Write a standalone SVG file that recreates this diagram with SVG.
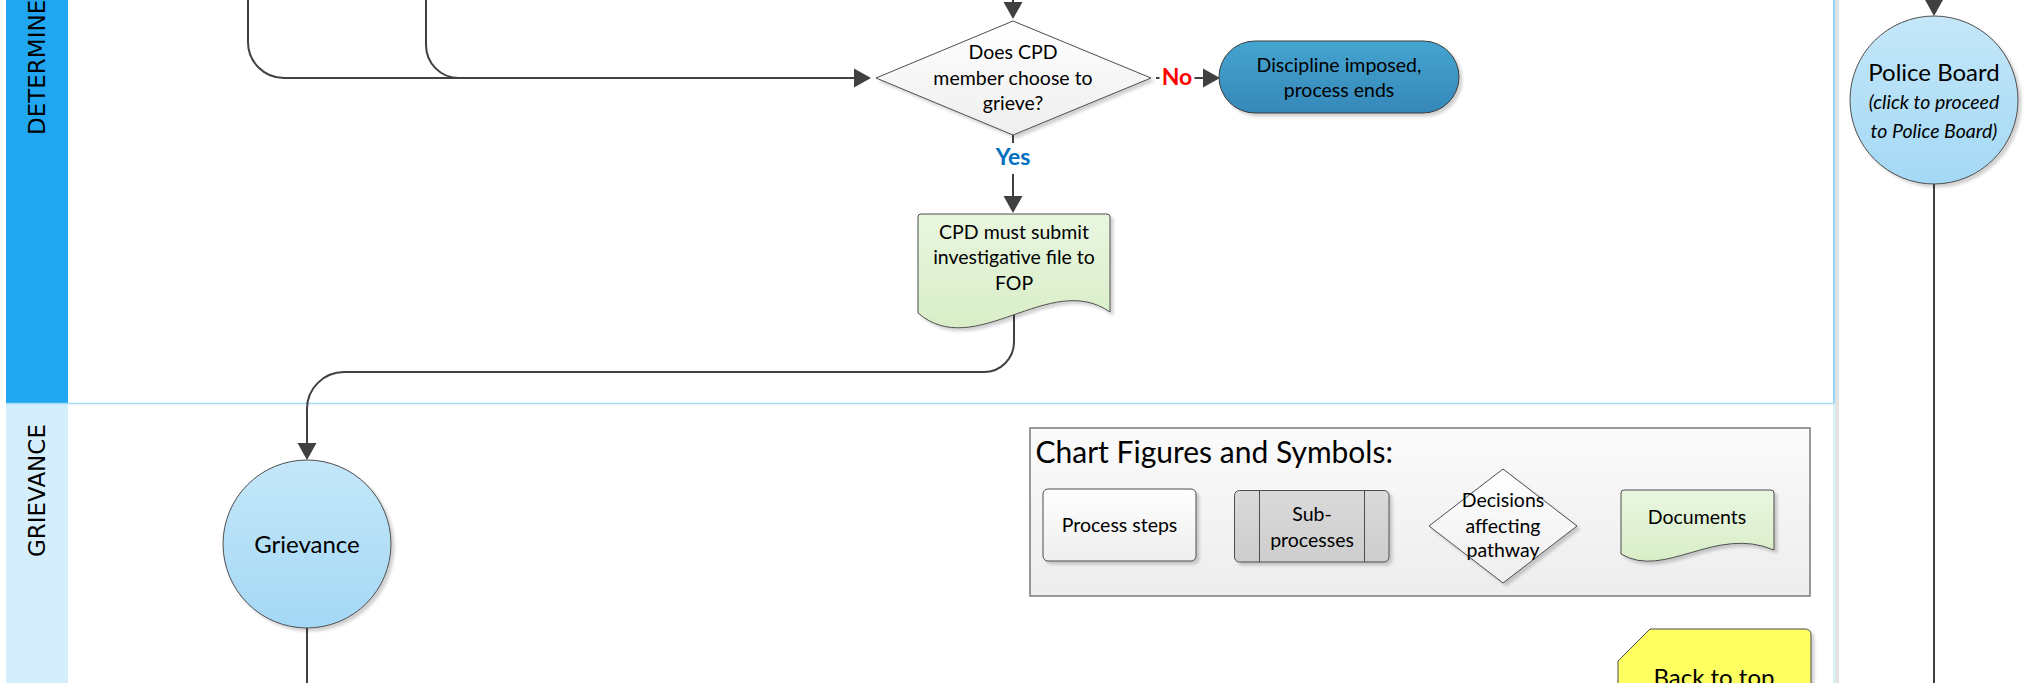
<svg xmlns="http://www.w3.org/2000/svg" width="2030" height="683" viewBox="0 0 2030 683">
<defs>
<style>
.t{font-family:Lato,"Open Sans","Liberation Sans",sans-serif;fill:#000;text-anchor:middle}
.lane{font-family:"DejaVu Sans",Verdana,sans-serif;font-size:23px;fill:#000}
.conn{fill:none;stroke:#404040;stroke-width:2}
.nd{stroke:#4d4d4d;stroke-width:1;stroke-linejoin:round}
</style>
<linearGradient id="gBlue" x1="0" y1="0" x2="0" y2="1"><stop offset="0" stop-color="#C4E7F9"/><stop offset="1" stop-color="#A4D8F5"/></linearGradient>
<linearGradient id="gTerm" x1="0" y1="0" x2="0" y2="1"><stop offset="0" stop-color="#45A4D0"/><stop offset="1" stop-color="#3588B9"/></linearGradient>
<linearGradient id="gWhite" x1="0" y1="0" x2="0" y2="1"><stop offset="0" stop-color="#FFFFFF"/><stop offset="1" stop-color="#EEEEEE"/></linearGradient>
<linearGradient id="gGreen" x1="0" y1="0" x2="0" y2="1"><stop offset="0" stop-color="#E9F6E0"/><stop offset="1" stop-color="#D8EEC7"/></linearGradient>
<linearGradient id="gGrey" x1="0" y1="0" x2="0" y2="1"><stop offset="0" stop-color="#DADADA"/><stop offset="1" stop-color="#CDCDCD"/></linearGradient>
<linearGradient id="gLegend" x1="0" y1="0" x2="0" y2="1"><stop offset="0" stop-color="#FBFBFB"/><stop offset="1" stop-color="#EDEDED"/></linearGradient>
<filter id="sh" x="-10%" y="-10%" width="130%" height="130%"><feDropShadow dx="3" dy="3" stdDeviation="1.5" flood-color="#000" flood-opacity="0.18"/></filter>
<marker id="ah" markerUnits="userSpaceOnUse" markerWidth="18" markerHeight="20" refX="0" refY="9.5" orient="auto" viewBox="0 0 18 19"><path d="M0,0 L17,9.5 L0,19 Z" fill="#404040"/></marker>
</defs>
<rect x="0" y="0" width="2030" height="683" fill="#FFFFFF"/>

<g id="lanes">
<rect x="6" y="-1" width="62" height="404.5" fill="#21A7F1"/>
<rect x="6" y="404" width="62" height="280" fill="#D4EEFC"/>
<line x1="6" y1="403.5" x2="1834" y2="403.5" stroke="#A6DCF6" stroke-width="1.5"/>
<line x1="1834" y1="0" x2="1834" y2="403.5" stroke="#6CC6F2" stroke-width="1.5"/>
<line x1="1834" y1="404" x2="1834" y2="683" stroke="#CDECFA" stroke-width="1.5"/>
<rect x="1835" y="0" width="4" height="683" fill="#E3E3E3"/>
<text class="lane" transform="translate(44.5,135) rotate(-90)">DETERMINE</text>
<text class="lane" transform="translate(44.5,557) rotate(-90)">GRIEVANCE</text>
</g>

<g id="connectors">
<path class="conn" d="M248,-5 V42 A36,36 0 0 0 284,78 H854" marker-end="url(#ah)"/>
<path class="conn" d="M426,-5 V45 A33,33 0 0 0 459,78 H470"/>
<path class="conn" d="M1013,-20 V2" marker-end="url(#ah)"/>
<path class="conn" d="M1156,78 H1203" marker-end="url(#ah)"/>
<path class="conn" d="M1013,135 V196" marker-end="url(#ah)"/>
<path class="conn" d="M1014,314 V342 A30,30 0 0 1 984,372 H344 A37,37 0 0 0 307,409 V443" marker-end="url(#ah)"/>
<path class="conn" d="M307,628 V690"/>
<path class="conn" d="M1934,-20 V-1" marker-end="url(#ah)"/>
<path class="conn" d="M1934,184 V690"/>
<rect x="1159.5" y="64" width="35" height="28" fill="#FFFFFF"/>
<text class="t" x="1177" y="85" style="font-size:23px;font-weight:bold;fill:#FF0000">No</text>
<rect x="993" y="143" width="40" height="31" fill="#FFFFFF"/>
<text class="t" x="1013" y="165" style="font-size:23px;font-weight:bold;fill:#0070C0">Yes</text>
</g>

<g id="decision-grieve">
<polygon class="nd" points="876,78 1013,21 1151,78 1013,135" fill="url(#gWhite)" filter="url(#sh)"/>
<text class="t" x="1013" y="58.5" style="font-size:19.5px">Does CPD</text>
<text class="t" x="1013" y="84.5" style="font-size:19.5px">member choose to</text>
<text class="t" x="1013" y="110" style="font-size:19.5px">grieve?</text>
</g>

<g id="terminal-discipline">
<rect x="1219" y="41" width="240" height="72" rx="36" ry="36" fill="url(#gTerm)" stroke="#3a3a3a" stroke-width="1" filter="url(#sh)"/>
<text class="t" x="1339" y="71.5" style="font-size:19.5px">Discipline imposed,</text>
<text class="t" x="1339" y="96.5" style="font-size:19.5px">process ends</text>
</g>

<g id="doc-submit">
<path class="nd" d="M921,214 H1107 Q1110,214 1110,217 V312 C1050,270 975,362 918,313 V217 Q918,214 921,214 Z" fill="url(#gGreen)" stroke="#707070" filter="url(#sh)"/>
<text class="t" x="1014" y="238.5" style="font-size:19.5px">CPD must submit</text>
<text class="t" x="1014" y="264" style="font-size:19.5px">investigative file to</text>
<text class="t" x="1014" y="289.5" style="font-size:19.5px">FOP</text>
</g>

<g id="grievance">
<circle class="nd" cx="307" cy="544" r="84" fill="url(#gBlue)" filter="url(#sh)"/>
<text class="t" x="307" y="552.5" style="font-size:24px">Grievance</text>
</g>

<g id="police-board">
<circle class="nd" cx="1934" cy="100" r="84" fill="url(#gBlue)" filter="url(#sh)"/>
<text class="t" x="1934" y="81" style="font-size:24px">Police Board</text>
<text class="t" x="1934" y="108.5" style="font-size:19.5px;font-style:italic">(click to proceed</text>
<text class="t" x="1934" y="137.5" style="font-size:19.5px;font-style:italic">to Police Board)</text>
</g>

<g id="legend">
<rect x="1030" y="428" width="780" height="168" fill="url(#gLegend)" stroke="#7a7a7a" stroke-width="1.5"/>
<text x="1035.5" y="462.5" style="font-family:Lato,'Open Sans','Liberation Sans',sans-serif;font-size:30px;fill:#000">Chart Figures and Symbols:</text>
<g id="legend-process">
<rect class="nd" x="1043" y="489" width="153" height="72" rx="5" fill="url(#gWhite)" filter="url(#sh)"/>
<text class="t" x="1119.5" y="532" style="font-size:19.5px">Process steps</text>
</g>
<g id="legend-subprocess">
<rect class="nd" x="1234.5" y="490.5" width="154.5" height="71.5" rx="5" fill="url(#gGrey)" filter="url(#sh)"/>
<line x1="1259.5" y1="490.5" x2="1259.5" y2="562" stroke="#4d4d4d" stroke-width="1"/>
<line x1="1364.5" y1="490.5" x2="1364.5" y2="562" stroke="#4d4d4d" stroke-width="1"/>
<text class="t" x="1312" y="520.5" style="font-size:19.5px">Sub-</text>
<text class="t" x="1312" y="546.5" style="font-size:19.5px">processes</text>
</g>
<g id="legend-decision">
<polygon class="nd" points="1429,526 1503,469 1577,526 1503,583" fill="url(#gWhite)" filter="url(#sh)"/>
<text class="t" x="1503" y="507" style="font-size:19.5px">Decisions</text>
<text class="t" x="1503" y="533" style="font-size:19.5px">affecting</text>
<text class="t" x="1503" y="557" style="font-size:19.5px">pathway</text>
</g>
<g id="legend-document">
<path class="nd" d="M1624,490 H1771 Q1774,490 1774,493 V550 C1715,525 1665,580 1621,554 V493 Q1621,490 1624,490 Z" fill="url(#gGreen)" stroke="#707070" filter="url(#sh)"/>
<text class="t" x="1697" y="524" style="font-size:19.5px">Documents</text>
</g>
</g>

<g id="back-to-top">
<path class="nd" d="M1650,629 H1805 Q1811,629 1811,635 V690 H1618 V661 Z" fill="#FFFF62" filter="url(#sh)"/>
<text class="t" x="1714" y="685.5" style="font-size:24px">Back to top</text>
</g>
</svg>
